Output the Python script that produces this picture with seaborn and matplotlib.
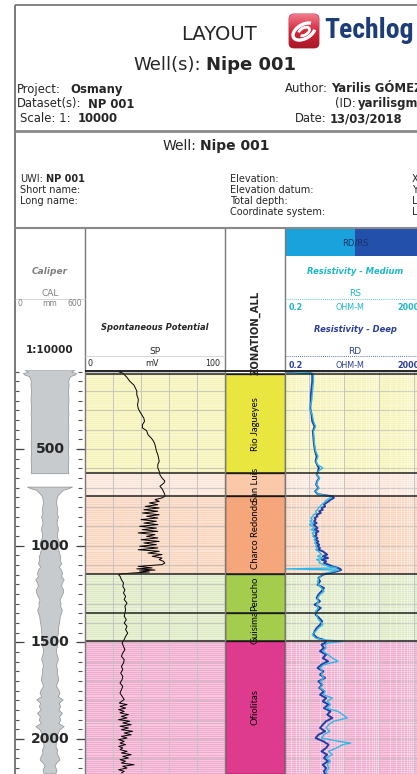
import numpy as np
import pandas as pd
import matplotlib
matplotlib.use("Agg")
import matplotlib.pyplot as plt
import seaborn as sns
from matplotlib import font_manager
from matplotlib.font_manager import FontProperties
from matplotlib.patches import Rectangle, FancyBboxPatch, Arc

W, H = 417, 774

# ---------------- data ----------------
zone_names = ["Rio Jagueyes", "San Luis", "Charco Redondo", "Perucho", "Guisima", "Ofiolitas"]
zone_tops = [112, 626, 741, 1146, 1348, 1491]
zone_bottoms = [626, 741, 1146, 1348, 1491, 2181]
zone_colors = ["#e9e63f", "#f9c9aa", "#f5a77b", "#a4cc4d", "#a4cc4d", "#de3a8e"]
zone_bg = ["#f6f3b6", "#fbe5d8", "#f9d3bc", "#dde9c3", "#dde9c3", "#f0a9cd"]

sp_depth = [100, 108, 115, 130, 150, 170, 185, 200, 220, 240, 255, 270, 290, 305, 322, 340, 357, 375, 391, 405,
            426, 445, 460, 478, 495, 510, 529, 545, 564, 580, 598, 615, 633, 650, 665, 675, 693, 705, 719, 735,
            745, 753, 762, 771, 779, 788, 797, 805, 814, 822, 831, 840, 848, 857, 865, 874, 883, 891, 900, 909,
            917, 926, 934, 943, 952, 960, 969, 978, 986, 995, 1003, 1012, 1021, 1029, 1038, 1046, 1055, 1064,
            1072, 1081, 1090, 1098, 1107, 1115, 1120, 1126, 1131, 1136, 1141, 1146, 1150,
            1158, 1176, 1193, 1210, 1228, 1245, 1262, 1279, 1297, 1314, 1331, 1348,
            1365, 1383, 1400, 1417, 1434, 1452, 1469, 1486,
            1503, 1521, 1538, 1555, 1572, 1590, 1607, 1624, 1641, 1659, 1676, 1693, 1710, 1728, 1745, 1762,
            1779, 1796, 1814, 1822, 1831, 1840, 1848, 1857, 1865, 1874, 1883, 1891, 1900, 1908, 1917, 1926,
            1934, 1943, 1952, 1960, 1969, 1978, 1986, 1995, 2003, 2012, 2021, 2029, 2038, 2046, 2055, 2064,
            2072, 2081, 2090, 2098, 2107, 2115, 2124, 2133, 2141, 2150, 2159, 2167, 2176]
sp_mv = [24, 27, 28, 30, 32, 35, 36, 37, 37, 38, 38, 37.5, 38, 39, 40.5, 42, 42.5, 41, 41, 44,
         45, 47.5, 49, 50, 50.5, 51, 52, 52.5, 53, 52, 52, 53, 53.5, 55, 57, 56.5, 53.5, 55, 56, 57,
         57, 55, 50, 53, 46, 52, 43, 53, 42, 52, 41, 53, 44, 52, 40, 51, 42, 52, 39, 51,
         41, 52, 38, 50, 44, 52, 40, 53, 42, 51, 39, 52, 38, 53, 45, 55, 48, 55,
         53, 56, 57, 55, 38, 48, 37, 50, 39, 46, 35, 26, 24,
         25, 26, 27.5, 27, 28.5, 27.5, 29, 28, 30, 28.5, 29, 28.5,
         28, 29.5, 28, 30, 29, 30.5, 29, 28,
         26.5, 27.5, 28.5, 27, 26, 28, 27.5, 26, 27, 25.5, 27, 26.5, 25, 27, 26, 25,
         26.5, 28, 24.5, 30, 25, 29, 24, 28, 25, 31, 26, 30, 24, 32, 27, 33,
         25, 31, 26, 34, 28, 33, 26, 30, 24, 28, 25, 29, 24, 27, 25, 30,
         26, 33, 27, 31, 25, 29, 26, 35, 27, 30, 24, 28, 26]

res_depth = [100, 108, 115, 150, 184, 219, 253, 288, 322, 357, 383, 409, 443, 478, 512, 538, 564, 581, 598, 615,
             633, 650, 667, 684, 702, 719, 733,
             745, 753, 762, 771, 779, 788, 797, 805, 814, 822, 831, 840, 848, 857, 865, 874, 883, 891, 900, 909,
             917, 926, 934, 943, 952, 960, 969, 978, 986, 995, 1003, 1012, 1021, 1029, 1038, 1046, 1055, 1064,
             1072, 1081, 1090, 1098, 1107, 1115, 1120, 1126, 1133, 1141,
             1150, 1167, 1184, 1202, 1219, 1236, 1253, 1271, 1288, 1305, 1322, 1340,
             1357, 1374, 1391, 1409, 1426, 1443, 1460, 1478, 1486,
             1495, 1503, 1512, 1529, 1546, 1564, 1581, 1598, 1615, 1633, 1650, 1667, 1684, 1702, 1719, 1736,
             1753, 1771, 1788, 1805, 1822, 1840, 1857, 1874, 1891, 1908, 1926, 1943, 1960, 1978, 1995, 2012,
             2021, 2029, 2046, 2064, 2081, 2098, 2115, 2133, 2150, 2167, 2181]
rd_ohmm = [0.22, 1.1, 1.2, 1.2, 1.15, 1.1, 1.1, 1.05, 1.15, 1.2, 1.4, 1.25, 1.3, 1.35, 1.45, 1.6, 1.5, 1.65, 1.85, 1.75,
           1.6, 1.9, 1.65, 1.55, 1.8, 1.45, 1.7,
           4.5, 5.0, 4.0, 3.5, 3.0, 2.6, 2.8, 2.2, 2.4, 1.9, 2.1, 1.6, 1.7, 1.4, 1.5, 1.35, 1.6, 1.3, 1.5, 1.7,
           1.4, 1.8, 1.5, 1.6, 1.4, 1.7, 1.5, 1.8, 1.6, 1.9, 1.7, 2.0, 1.8, 2.4, 2.8, 3.2, 2.4, 3.4,
           2.2, 3.0, 2.6, 3.5, 4.5, 6.5, 7.5, 8.0, 6.0, 4.0,
           2.4, 1.8, 2.0, 1.7, 2.6, 2.2, 1.8, 1.6, 2.0, 1.4, 2.1, 1.6,
           1.5, 1.9, 2.3, 2.0, 1.6, 1.4, 1.3, 1.7, 2.5,
           3.0, 2.8, 2.2, 2.6, 2.0, 3.0, 2.4, 3.4, 2.2, 1.7, 2.5, 2.0, 2.8, 1.8, 2.3, 1.9,
           2.6, 2.0, 3.0, 2.4, 3.5, 2.6, 4.0, 3.2, 4.5, 3.0, 2.4, 2.0, 2.8, 1.8, 1.5, 2.5,
           3.0, 3.5, 3.0, 2.2, 3.2, 2.6, 3.4, 2.4, 3.0, 2.6, 2.8]
rs_ohmm = [0.22, 1.2, 1.3, 1.3, 1.25, 1.2, 1.15, 1.0, 1.2, 1.3, 1.5, 1.3, 1.35, 1.4, 1.5, 1.75, 1.55, 1.7, 2.4, 1.8,
           1.6, 1.95, 1.7, 1.6, 1.85, 1.5, 1.75,
           3.5, 4.2, 3.2, 2.8, 2.6, 2.2, 2.0, 1.8, 1.7, 1.5, 1.6, 1.3, 1.25, 1.1, 1.2, 1.05, 1.3, 1.0, 1.2, 1.4,
           1.1, 1.5, 1.2, 1.3, 1.25, 1.5, 1.35, 1.55, 1.4, 1.6, 1.5, 1.7, 1.5, 1.8, 2.0, 2.2, 1.7, 2.4,
           1.6, 2.0, 1.9, 2.6, 3.5, 6.0, 0.21, 7.0, 5.0, 3.0,
           2.2, 1.9, 1.7, 1.8, 2.2, 2.6, 2.0, 1.7, 1.8, 1.6, 1.8, 1.5,
           1.6, 1.7, 2.0, 2.4, 1.8, 1.5, 1.2, 1.5, 2.2,
           9.0, 3.5, 2.8, 3.0, 2.4, 3.4, 4.5, 6.5, 2.6, 2.0, 2.3, 2.2, 2.6, 2.0, 2.4, 2.0,
           2.8, 2.5, 4.5, 3.2, 4.0, 3.0, 6.5, 9.0, 12, 5.0, 3.5, 3.0, 3.8, 2.6, 2.2, 7.0,
           15, 9, 6, 3.5, 4.5, 3.0, 4.0, 3.2, 3.6, 3.0, 3.2]

cal_depth = [91, 97, 103, 110, 118, 125, 135, 150, 175, 200, 225, 250, 275, 300, 325, 350, 375, 400, 425, 450,
             475, 500, 525, 550, 575, 600, 615, 628, 629, 696, 697, 705, 714, 722, 731, 740, 749, 765, 783, 800,
             818, 835, 852, 870, 887, 905, 921, 940, 956, 973, 990, 1008, 1025, 1042, 1059, 1076, 1094, 1111,
             1125, 1143, 1160, 1177, 1195, 1212, 1230, 1246, 1264, 1281, 1298, 1315, 1333, 1350, 1367, 1384,
             1402, 1419, 1436, 1453, 1475, 1496, 1510, 1522, 1540, 1557, 1575, 1591, 1610, 1626, 1643, 1660,
             1678, 1695, 1712, 1729, 1746, 1764, 1781, 1798, 1815, 1833, 1850, 1867, 1885, 1902, 1920, 1936,
             1953, 1971, 1988, 2005, 2022, 2040, 2057, 2074, 2091, 2109, 2126, 2143, 2160, 2181]
cal_mm = [429, 400, 369, 457, 430, 357, 334, 322, 326, 318, 322, 325, 319, 320, 324, 316, 321, 322, 317, 318,
          323, 320, 318, 324, 320, 318, 322, 320, None, None, 386, 330, 230, 200, 171, 145, 126, 118, 114, 125,
          134, 120, 143, 128, 120, 140, 143, 130, 126, 150, 171, 150, 151, 165, 186, 175, 200, 160,
          195, 214, 200, 243, 210, 200, 235, 228, 200, 171, 190, 183, 210, 200, 175, 171,
          160, 151, 145, 143, 130, 114, 125, 126, 110, 114, 135, 143, 120, 114, 130, 126,
          140, 151, 125, 114, 150, 171, 140, 228, 160, 183, 150, 214, 165, 186, 150, 243,
          170, 143, 125, 114, 108, 103, 130, 120, 150, 171, 110, 86, 120, 100]

sp_df = pd.DataFrame({"depth": sp_depth, "SP": sp_mv})
res_df = pd.DataFrame({"depth": res_depth, "RD": rd_ohmm, "RS": rs_ohmm})
cal_df = pd.DataFrame({"depth": cal_depth, "CAL": pd.Series(cal_mm, dtype="float")})

# ---------------- fonts ----------------
sns.set_style("white")
plt.rcParams["font.family"] = ["DejaVu Sans"]
ttf = font_manager.fontManager.ttflist
names = {f.name for f in ttf}
zone_font = "Lato" if "Lato" in names else "DejaVu Sans"


def is_bold(f):
    w = f.weight
    return (w == "bold") or (isinstance(w, int) and w >= 700)


logo_prop = None
for cand, size in (("Liberation Sans Narrow", 21), ("Roboto Condensed", 20)):
    fl = [f for f in ttf if f.name == cand and f.style == "normal"]
    if fl:
        fb = [f for f in fl if is_bold(f)] or fl
        logo_prop = FontProperties(fname=fb[0].fname, size=size)
        break
if logo_prop is None:
    fl = [f for f in ttf if f.name == "DejaVu Sans" and f.stretch == "condensed" and f.style == "normal"]
    if fl:
        fb = [f for f in fl if is_bold(f)] or fl
        logo_prop = FontProperties(fname=fb[0].fname, size=16.5)
if logo_prop is None:
    logo_prop = FontProperties(family="Liberation Sans", weight="bold", size=17)

# ---------------- figure ----------------
fig = plt.figure(figsize=(W / 100, H / 100), dpi=100)
fig.patch.set_facecolor("white")


def rect(x0, y0, x1, y1):
    return [x0 / W, 1 - y1 / H, (x1 - x0) / W, (y1 - y0) / H]


DTOP, DBOT = 91.4, 2181.0
axd = fig.add_axes(rect(15, 370, 85, 774))
axsp = fig.add_axes(rect(85, 370, 225, 774))
axz = fig.add_axes(rect(225, 370, 285, 774))
axr = fig.add_axes(rect(285, 370, 425, 774))
for a in (axd, axsp, axz, axr):
    a.set_ylim(DBOT, DTOP)
    a.set_axis_off()
axd.set_xlim(-300, 300)
axsp.set_xlim(0, 100)
axz.set_xlim(0, 1)
axr.set_xscale("log")
axr.set_xlim(0.2, 2000)

# zone backgrounds & grid
for t, b, bg in zip(zone_tops, zone_bottoms, zone_bg):
    axsp.axhspan(t, b, color=bg, lw=0, zorder=0)
    axr.axhspan(t, b, color=bg, lw=0, zorder=0)
minor_d = np.arange(100, 2190, 10)
major_d = np.arange(100, 2190, 100)
for a in (axsp, axr):
    tr = a.get_yaxis_transform()
    a.hlines(minor_d, 0, 1, transform=tr, colors="white", lw=0.5, alpha=0.55, zorder=1)
    a.hlines(major_d, 0, 1, transform=tr, colors="#bdbdbd", lw=0.6, alpha=0.9, zorder=1)
axsp.vlines([20, 40, 60, 80], DTOP, DBOT, colors="#c4c4c4", lw=0.7, zorder=1)
minor_r = [m * 10.0 ** k for k in range(-1, 4) for m in range(2, 10)]
minor_r = [v for v in minor_r if 0.2 < v < 2000]
axr.vlines(minor_r, DTOP, DBOT, colors="white", lw=0.5, alpha=0.55, zorder=1)
axr.vlines([1, 10, 100, 1000], DTOP, DBOT, colors="#c4c4c4", lw=0.7, zorder=1)

# zonation column
for name, t, b, c in zip(zone_names, zone_tops, zone_bottoms, zone_colors):
    r = Rectangle((0, t), 1, b - t, facecolor=c, edgecolor="black", lw=0.9, zorder=2)
    axz.add_patch(r)
    tx = axz.text(0.5, (t + b) / 2, name, rotation=90, ha="center", va="center",
                  fontsize=6.8, family=zone_font, color="black", zorder=3)
    tx.set_clip_path(r)

bounds = sorted(set(zone_tops + zone_bottoms[:-1]))
for a in (axsp, axz, axr):
    a.hlines(bounds, 0, 1, transform=a.get_yaxis_transform(), colors="#222222", lw=1.1, zorder=6)

# curves via seaborn
sns.lineplot(data=sp_df, x="SP", y="depth", sort=False, orient="y", estimator=None,
             color="black", lw=0.7, ax=axsp, zorder=5)
sns.lineplot(data=res_df, x="RD", y="depth", sort=False, orient="y", estimator=None,
             color="#1f3fa6", lw=1.4, ax=axr, zorder=5)
sns.lineplot(data=res_df, x="RS", y="depth", sort=False, orient="y", estimator=None,
             color="#2fb8e6", lw=1.0, ax=axr, zorder=5)
for a in (axsp, axr):
    a.set_ylim(DBOT, DTOP)
    a.set_axis_off()
axsp.set_xlim(0, 100)
axr.set_xlim(0.2, 2000)

# caliper (mirrored)
axd.fill_betweenx(cal_df["depth"], -cal_df["CAL"] / 2, cal_df["CAL"] / 2,
                  facecolor="#c7cbce", edgecolor="#8e9296", lw=0.5, zorder=2)
ticks50 = np.arange(100, 2181, 50)
axd.hlines(ticks50, -300, -266, colors="#555555", lw=0.8, zorder=3)
axd.hlines(ticks50, 240, 275, colors="#555555", lw=0.8, zorder=3)
for d in [500, 1000, 1500, 2000]:
    axd.hlines([d], -300, -222, colors="#444444", lw=0.9, zorder=3)
    axd.hlines([d], 222, 300, colors="#444444", lw=0.9, zorder=3)
    axd.text(0, d, str(d), ha="center", va="center", fontsize=10, weight="bold", zorder=4)

# ---------------- overlay: frame, header ----------------
ov = fig.add_axes([0, 0, 1, 1], zorder=20)
ov.set_xlim(0, W)
ov.set_ylim(H, 0)
ov.set_axis_off()
ov.patch.set_alpha(0)


def L(xs, ys, **kw):
    ov.plot(xs, ys, solid_capstyle="butt", **kw)


L([15, 417], [5, 5], color="#707070", lw=1.2)
L([15, 15], [5, 774], color="#707070", lw=1.3)
L([15, 417], [131, 131], color="#8a8a8a", lw=2.0)
L([15, 417], [228, 228], color="#8a8a8a", lw=1.5)
for x in (85, 225, 285):
    L([x, x], [228, 774], color="#7a7a7a", lw=1.0)
L([85, 417], [371, 371], color="#222222", lw=1.4)
L([15, 85], [299, 299], color="#d0d0d0", lw=0.6)
L([85, 225], [356, 356], color="#d0d0d0", lw=0.6)
L([285, 417], [299, 299], color="#2fb8d0", lw=0.6, ls=(0, (1, 1.5)))
L([285, 417], [356, 356], color="#2b3f9d", lw=0.6, ls=(0, (1, 1.5)))
ov.add_patch(Rectangle((285, 228.5), 70, 27.5, facecolor="#1aa2dc", lw=0))
ov.add_patch(Rectangle((355, 228.5), 70, 27.5, facecolor="#2350ab", lw=0))


def T(x, y, s, **kw):
    kw.setdefault("va", "center")
    kw.setdefault("ha", "left")
    return ov.text(x, y, s, **kw)


# logo
box = FancyBboxPatch((289, 14), 30, 34, boxstyle="round,pad=0,rounding_size=5",
                     facecolor="#d3283b", edgecolor="#b01f30", lw=0.6)
ov.add_patch(box)
grad = np.linspace(0, 1, 64).reshape(-1, 1)
im = ov.imshow(grad, extent=(289, 319, 48, 14), cmap=matplotlib.colors.LinearSegmentedColormap.from_list(
    "lg", ["#f07a8a", "#d3283b", "#a81828"]), aspect="auto", zorder=2)
im.set_clip_path(box)
ov.add_patch(Arc((304, 31.5), 24, 14, angle=-30, theta1=20, theta2=340, color="white", lw=2.4, zorder=3))
ov.add_patch(Arc((304, 31.5), 12, 7, angle=-30, theta1=200, theta2=520, color="white", lw=2.0, zorder=3))
ov.set_xlim(0, W)
ov.set_ylim(H, 0)
T(324, 31, "Techlog", fontproperties=logo_prop, color="#1c3d78")

T(219, 34, "LAYOUT", ha="center", fontsize=14)
T(201, 65, "Well(s):", ha="right", fontsize=13)
T(206, 65, "Nipe 001", fontsize=13, weight="bold")
fs = 8.4
T(17, 89, "Project:", fontsize=fs)
T(70, 89, "Osmany", fontsize=fs, weight="bold")
T(17, 104, "Dataset(s):", fontsize=fs)
T(88, 104, "NP 001", fontsize=fs, weight="bold")
T(20, 119, "Scale: 1:", fontsize=fs)
T(78, 119, "10000", fontsize=fs, weight="bold")
T(328, 89, "Author:", ha="right", fontsize=fs)
T(331, 89, "Yarilis GÓMEZ", fontsize=fs, weight="bold")
T(356, 104, "(ID:", ha="right", fontsize=fs)
T(358, 104, "yarilisgm)", fontsize=fs, weight="bold")
T(327, 119, "Date:", ha="right", fontsize=fs)
T(330, 119, "13/03/2018", fontsize=fs, weight="bold")

T(196, 146, "Well:", ha="right", fontsize=10)
T(200, 146, "Nipe 001", fontsize=10, weight="bold")
fs2 = 7
T(20, 179, "UWI:", fontsize=fs2)
T(46, 179, "NP 001", fontsize=fs2, weight="bold")
T(20, 190, "Short name:", fontsize=fs2)
T(20, 201, "Long name:", fontsize=fs2)
for i, s in enumerate(["Elevation:", "Elevation datum:", "Total depth:", "Coordinate system:"]):
    T(230, 179 + 11 * i, s, fontsize=fs2)
for i, s in enumerate(["X", "Y", "L", "L"]):
    T(412, 179 + 11 * i, s, fontsize=fs2)

gray = "#7f7f7f"
T(50, 271, "Caliper", ha="center", fontsize=6.5, style="italic", weight="bold", color=gray)
T(50, 294, "CAL", ha="center", fontsize=6.5, color=gray)
T(20, 303, "0", ha="center", fontsize=5.5, color=gray)
T(50, 303, "mm", ha="center", fontsize=5.5, color=gray)
T(75, 303, "600", ha="center", fontsize=5.5, color=gray)
T(50, 350, "1:10000", ha="center", fontsize=7.5, weight="bold")

T(155, 328, "Spontaneous Potential", ha="center", fontsize=6, style="italic", weight="bold")
T(155, 351, "SP", ha="center", fontsize=6.5)
T(90, 363, "0", ha="center", fontsize=5.8)
T(152, 363, "mV", ha="center", fontsize=5.8)
T(213, 363, "100", ha="center", fontsize=5.8)

T(255, 333, "ZONATION_ALL", ha="center", rotation=90, fontsize=7.2, weight="bold")

cyan = "#1fb6c8"
navy = "#2b3f9d"
T(355, 243, "RD/RS", ha="center", fontsize=6, color="#1b2f6b")
T(355, 271, "Resistivity - Medium", ha="center", fontsize=6, style="italic", weight="bold", color=cyan)
T(355, 294, "RS", ha="center", fontsize=6.5, color=cyan)
T(296, 308, "0.2", ha="center", fontsize=5.8, color=cyan, weight="bold")
T(350, 308, "OHM-M", ha="center", fontsize=5.8, color=cyan)
T(408, 308, "2000", ha="center", fontsize=5.8, color=cyan, weight="bold")
T(355, 329, "Resistivity - Deep", ha="center", fontsize=6, style="italic", weight="bold", color=navy)
T(355, 351, "RD", ha="center", fontsize=6.5, color=navy)
T(296, 365, "0.2", ha="center", fontsize=5.8, color=navy, weight="bold")
T(350, 365, "OHM-M", ha="center", fontsize=5.8, color=navy)
T(408, 365, "2000", ha="center", fontsize=5.8, color=navy, weight="bold")

fig.savefig("out.png", dpi=100, facecolor="white")
